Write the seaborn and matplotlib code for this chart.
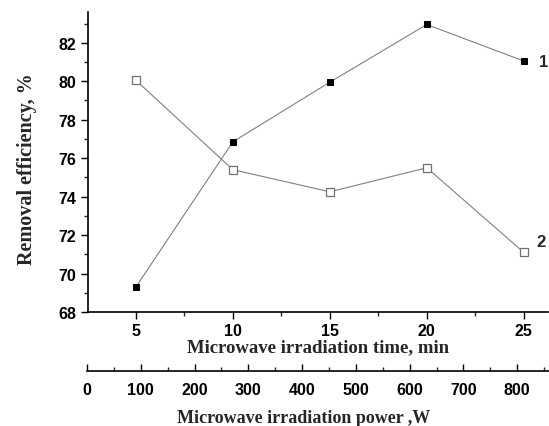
import matplotlib
matplotlib.use("Agg")
import matplotlib.pyplot as plt
import seaborn as sns
import pandas as pd
from matplotlib.ticker import MultipleLocator

# data
time_min = [5, 10, 15, 20, 25]
eff_1 = [69.3, 76.85, 79.95, 82.95, 81.05]
eff_2 = [80.05, 75.4, 74.25, 75.5, 71.1]
power_ticks = [0, 100, 200, 300, 400, 500, 600, 700, 800]

df = pd.DataFrame({"time": time_min, "s1": eff_1, "s2": eff_2})

sns.set_style("ticks")
plt.rcParams["font.family"] = ["Liberation Sans", "DejaVu Sans"]

fig = plt.figure(figsize=(5.49, 4.27), dpi=100)
ax = fig.add_axes([88 / 549, 1 - 313 / 427, 460 / 549, 300 / 427])

sns.lineplot(data=df, x="time", y="s1", ax=ax, color="#808080", linewidth=0.8,
             marker="s", markersize=5, markerfacecolor="black", markeredgecolor="black")
sns.lineplot(data=df, x="time", y="s2", ax=ax, color="#808080", linewidth=0.8,
             marker="s", markersize=5.5, markerfacecolor="white", markeredgecolor="#707070",
             markeredgewidth=0.9)

ax.set_xlim(2.53, 26.25)
ax.set_ylim(68, 83.6)
ax.set_xticks(time_min)
ax.xaxis.set_minor_locator(MultipleLocator(2.5))
ax.yaxis.set_major_locator(MultipleLocator(2))
ax.yaxis.set_minor_locator(MultipleLocator(1))
ax.tick_params(which="major", direction="out", length=5, width=1, labelsize=11.5, colors="black")
ax.tick_params(which="minor", direction="out", length=3, width=1)
for lab in ax.get_xticklabels() + ax.get_yticklabels():
    lab.set_fontweight("bold")
ax.tick_params(axis="x", pad=3)

sns.despine(ax=ax)
for s in ["left", "bottom"]:
    ax.spines[s].set_linewidth(1.2)
    ax.spines[s].set_color("black")

serif = ["Liberation Serif", "DejaVu Serif"]
ax.set_xlabel("Microwave irradiation time, min", family=serif, fontweight="bold",
              fontsize=13.5, labelpad=0)
ax.set_ylabel("Removal efficiency, %", family=serif, fontweight="bold", fontsize=14.5)
ax.yaxis.set_label_coords(-0.111, 0.48)

ax.text(25.8, 81.0, "1", fontsize=12, fontweight="bold", va="center", ha="left", clip_on=False)
ax.text(25.65, 71.65, "2", fontsize=12, fontweight="bold", va="center", ha="left", clip_on=False)

# second axis for power
ax2 = fig.add_axes([87 / 549, 1 - 372 / 427, 462 / 549, 0.0001])
ax2.set_xlim(0, 859)
ax2.set_yticks([])
for s in ["left", "right", "top"]:
    ax2.spines[s].set_visible(False)
ax2.spines["bottom"].set_linewidth(1.2)
ax2.spines["bottom"].set_color("black")
ax2.patch.set_alpha(0)
ax2.set_xticks(power_ticks)
ax2.xaxis.set_minor_locator(MultipleLocator(50))
ax2.tick_params(axis="x", which="major", direction="in", length=5, width=1, labelsize=11.5,
                pad=8, colors="black")
ax2.tick_params(axis="x", which="minor", direction="in", length=3, width=1)
for lab in ax2.get_xticklabels():
    lab.set_fontweight("bold")
ax2.set_xlabel("Microwave irradiation power ,W", family=serif, fontweight="bold", fontsize=13)
ax2.xaxis.set_label_coords(304 / 549, 1 - 410 / 427, transform=fig.transFigure)

fig.savefig("out.png", dpi=100)
